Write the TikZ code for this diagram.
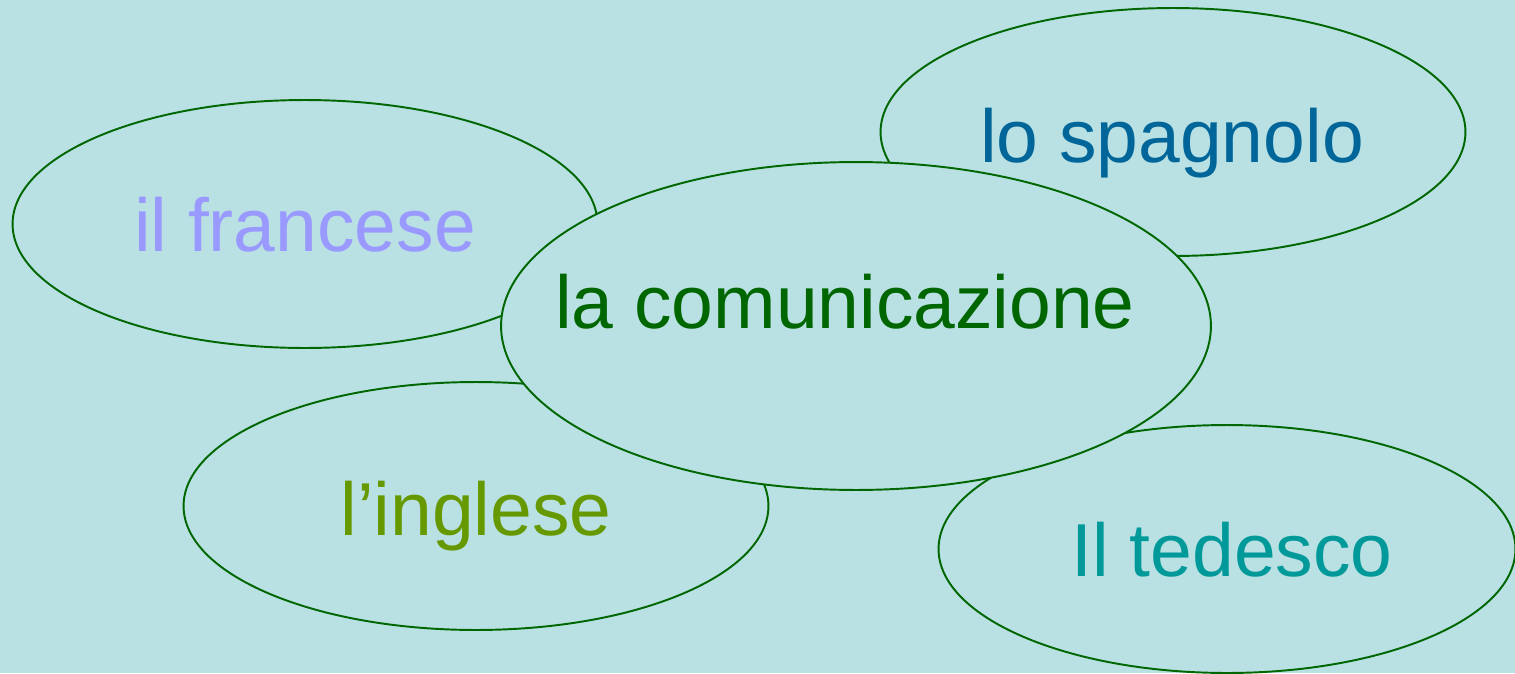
\documentclass[tikz,border=0pt]{standalone}
\usepackage{fontspec}
\setmainfont{Liberation Sans}
\usetikzlibrary{shapes.geometric}
\definecolor{bgblue}{HTML}{B9E0E3}
\definecolor{rimgreen}{HTML}{006600}
\definecolor{frcol}{HTML}{9999FF}
\definecolor{escol}{HTML}{006699}
\definecolor{comcol}{HTML}{006600}
\definecolor{encol}{HTML}{669900}
\definecolor{decol}{HTML}{009999}
\tikzset{
  lingua/.style={ellipse,draw=rimgreen,fill=bgblue,line width=1.1pt,inner sep=0pt,
    minimum width=11.7cm,minimum height=4.96cm},
  parola/.style={anchor=base,inner sep=0pt,font=\fontsize{42.7}{50}\selectfont}
}
\begin{document}
\begin{tikzpicture}[x=0.02cm,y=-0.02cm]
\useasboundingbox[fill=bgblue] (0,0) rectangle (1515,673);
%
\node[lingua] (francese) at (305,224) {};
\node[parola,text=frcol] (francese-t) at (305,251) {il francese};
%
\node[lingua] (spagnolo) at (1173,132) {};
\node[parola,text=escol] (spagnolo-t) at (1172,162) {lo spagnolo};
%
\node[lingua] (inglese) at (476,506) {};
\node[parola,text=encol] (inglese-t) at (476,535) {l’inglese};
%
\node[lingua,minimum width=11.54cm] (tedesco) at (1227,549) {};
\node[parola,text=decol] (tedesco-t) at (1232,576) {Il tedesco};
%
\node[lingua,minimum width=14.2cm,minimum height=6.56cm] (comunicazione) at (856,326) {};
\node[parola,text=comcol] (comunicazione-t) at (845,328) {la comunicazione};
\end{tikzpicture}
\end{document}
